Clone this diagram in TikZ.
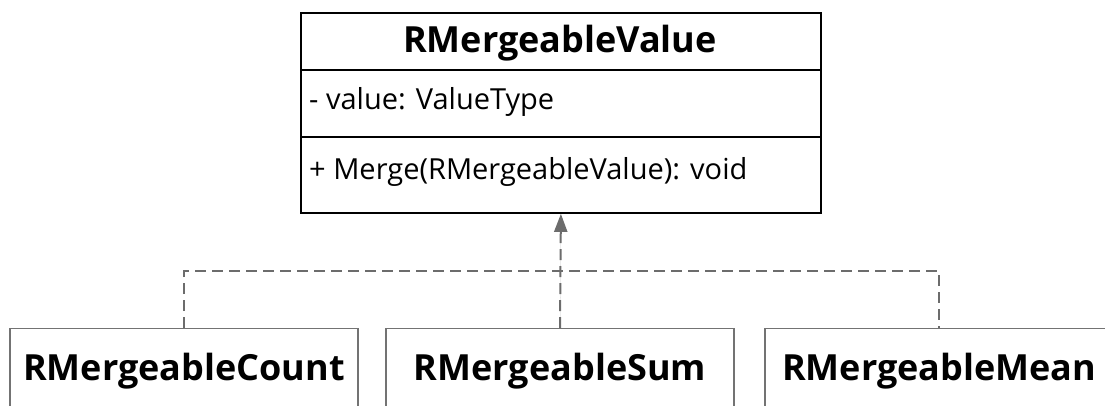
\documentclass[tikz,border=0pt]{standalone}
\usepackage{fontspec}
\setmainfont{Open Sans}
\usetikzlibrary{arrows.meta}

\tikzset{
  classbox/.style={draw=black, line width=1.8pt, fill=white, inner sep=0pt},
  childbox/.style={draw=gray!90!black, line width=1.4pt, fill=white, inner sep=0pt,
                   minimum width=348pt, minimum height=110pt},
  classname/.style={font=\fontsize{36}{40}\selectfont\bfseries, inner sep=0pt},
  member/.style={font=\fontsize{29}{33}\selectfont, inner sep=0pt, anchor=west},
  realizes/.style={draw=gray!85!black, line width=2pt, dash pattern=on 11pt off 6pt},
}

\begin{document}
\begin{tikzpicture}[x=1pt, y=-1pt]
  \useasboundingbox (0,0) rectangle (1105,405);
  \clip (0,0) rectangle (1105,405);

  % interface with its three compartments
  \node[classbox, minimum width=520pt, minimum height=200pt, anchor=north west] (parent) at (300,12) {};
  \coordinate (sepA) at (300,70);
  \coordinate (sepB) at (300,137);
  \draw[black, line width=1.8pt] (sepA) -- (sepA -| parent.east);
  \draw[black, line width=1.8pt] (sepB) -- (sepB -| parent.east);
  \node[classname] (ptitle) at (560,43) {RMergeableValue};
  \node[member] (pattr) at (309,102) {- value: ValueType};
  \node[member] (pmeth) at (309,172) {+ Merge(RMergeableValue): void};

  % implementing classes
  \node[childbox, anchor=north] (count) at (184,328) {};
  \node[childbox, anchor=north] (sum)   at (560,328) {};
  \node[childbox, anchor=north] (mean)  at (939,328) {};
  \node[classname] (tcount) at (184,371) {RMergeableCount};
  \node[classname] (tsum)   at (560,371) {RMergeableSum};
  \node[classname] (tmean)  at (939,371) {RMergeableMean};

  % realization connectors
  \coordinate (bus) at (560,271);
  \draw[realizes] (count.north) |- (bus) -| (mean.north);
  \draw[realizes, -{Triangle[length=18pt, width=13pt]}, fill=gray!85!black] (sum.north) -- (parent.south);
\end{tikzpicture}
\end{document}
